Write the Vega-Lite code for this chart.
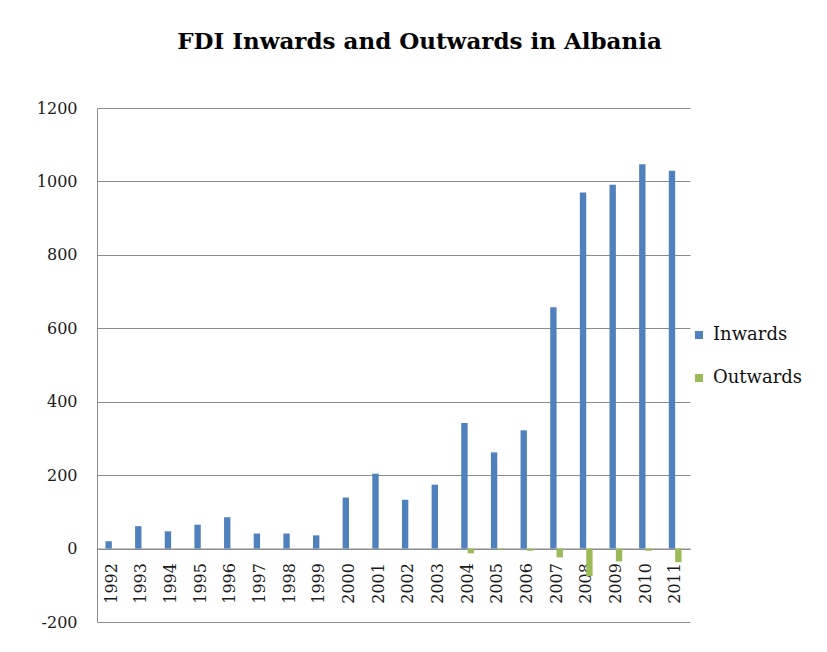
{
  "$schema": "https://vega.github.io/schema/vega-lite/v6.json",
  "width": 593,
  "height": 514,
  "autosize": {"type": "none"},
  "padding": {"left": 97, "top": 108, "right": 137, "bottom": 30},
  "background": "white",
  "title": {
    "text": "FDI Inwards and Outwards in Albania",
    "font": "DejaVu Serif",
    "fontSize": 23,
    "fontWeight": "bold",
    "color": "#000000",
    "anchor": "middle",
    "dx": 26,
    "offset": 46
  },
  "data": {
    "values": [
      {"year": "1992", "series": "Inwards", "value": 20},
      {"year": "1993", "series": "Inwards", "value": 61},
      {"year": "1994", "series": "Inwards", "value": 47},
      {"year": "1995", "series": "Inwards", "value": 65},
      {"year": "1996", "series": "Inwards", "value": 85},
      {"year": "1997", "series": "Inwards", "value": 41},
      {"year": "1998", "series": "Inwards", "value": 41},
      {"year": "1999", "series": "Inwards", "value": 36},
      {"year": "2000", "series": "Inwards", "value": 139},
      {"year": "2001", "series": "Inwards", "value": 204},
      {"year": "2002", "series": "Inwards", "value": 133},
      {"year": "2003", "series": "Inwards", "value": 174},
      {"year": "2004", "series": "Inwards", "value": 342},
      {"year": "2005", "series": "Inwards", "value": 262},
      {"year": "2006", "series": "Inwards", "value": 322},
      {"year": "2007", "series": "Inwards", "value": 657},
      {"year": "2008", "series": "Inwards", "value": 970},
      {"year": "2009", "series": "Inwards", "value": 991},
      {"year": "2010", "series": "Inwards", "value": 1047},
      {"year": "2011", "series": "Inwards", "value": 1029},
      {"year": "1992", "series": "Outwards", "value": 0},
      {"year": "1993", "series": "Outwards", "value": 0},
      {"year": "1994", "series": "Outwards", "value": 0},
      {"year": "1995", "series": "Outwards", "value": 0},
      {"year": "1996", "series": "Outwards", "value": 0},
      {"year": "1997", "series": "Outwards", "value": 0},
      {"year": "1998", "series": "Outwards", "value": 0},
      {"year": "1999", "series": "Outwards", "value": 0},
      {"year": "2000", "series": "Outwards", "value": 0},
      {"year": "2001", "series": "Outwards", "value": 0},
      {"year": "2002", "series": "Outwards", "value": 0},
      {"year": "2003", "series": "Outwards", "value": 0},
      {"year": "2004", "series": "Outwards", "value": -13},
      {"year": "2005", "series": "Outwards", "value": -3},
      {"year": "2006", "series": "Outwards", "value": -6},
      {"year": "2007", "series": "Outwards", "value": -24},
      {"year": "2008", "series": "Outwards", "value": -75},
      {"year": "2009", "series": "Outwards", "value": -35},
      {"year": "2010", "series": "Outwards", "value": -6},
      {"year": "2011", "series": "Outwards", "value": -37}
    ]
  },
  "mark": {"type": "bar"},
  "encoding": {
    "x": {
      "field": "year",
      "type": "nominal",
      "scale": {"paddingInner": 0.57, "paddingOuter": 0.285},
      "axis": {
        "title": null,
        "offset": -73.43,
        "labelAngle": -90,
        "labelAlign": "right",
        "labelBaseline": "middle",
        "labelPadding": 14,
        "labelFont": "DejaVu Serif",
        "labelFontSize": 16,
        "labelColor": "#1a1a1a",
        "ticks": false,
        "domainColor": "#8c8c8c",
        "domainWidth": 1.2,
        "grid": false
      }
    },
    "xOffset": {"field": "series", "type": "nominal", "scale": {"paddingInner": 0}},
    "y": {
      "field": "value",
      "type": "quantitative",
      "scale": {"domain": [-200, 1200], "nice": false},
      "axis": {
        "title": null,
        "values": [-200, 0, 200, 400, 600, 800, 1000, 1200],
        "labelExpr": "'' + datum.value",
        "labelFont": "DejaVu Serif",
        "labelFontSize": 16,
        "labelColor": "#1a1a1a",
        "labelPadding": 20,
        "ticks": false,
        "domainColor": "#8c8c8c",
        "grid": true,
        "gridColor": "#8c8c8c",
        "gridWidth": 1
      }
    },
    "color": {
      "field": "series",
      "type": "nominal",
      "scale": {"domain": ["Inwards", "Outwards"], "range": ["#4F81BD", "#9BBB59"]},
      "legend": {
        "title": null,
        "orient": "none",
        "legendX": 593,
        "legendY": 218,
        "symbolType": "square",
        "symbolSize": 64,
        "symbolStrokeWidth": 0,
        "labelFont": "DejaVu Serif",
        "labelFontSize": 18,
        "labelColor": "#111111",
        "labelOffset": 5,
        "rowPadding": 25
      }
    }
  },
  "config": {"view": {"stroke": null}}
}
